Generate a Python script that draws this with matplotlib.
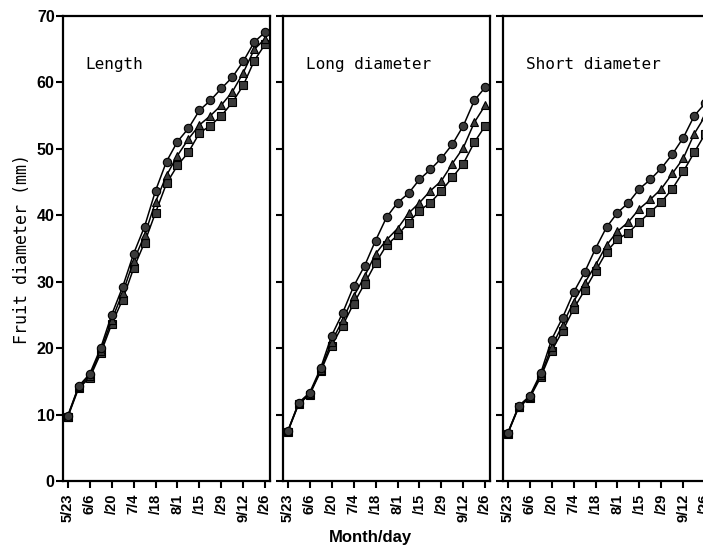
import numpy as np
import pandas as pd
import matplotlib
matplotlib.use("Agg")
import matplotlib.pyplot as plt

# weekly sampling dates
dates = ['5/23', '5/30', '6/6', '6/13', '6/20', '6/27', '7/4', '7/11', '7/18', '7/25',
         '8/1', '8/8', '8/15', '8/22', '8/29', '9/5', '9/12', '9/19', '9/26']
tick_dates = ['5/23', '6/6', '6/20', '7/4', '7/18', '8/1', '8/15', '8/29', '9/12', '9/26']
tick_labels = ['5/23', '6/6', '/20', '7/4', '/18', '8/1', '/15', '/29', '9/12', '/26']

# Length (mm)
len_circ = [9.8, 14.3, 16.1, 20.0, 25.0, 29.2, 34.2, 38.3, 43.7, 48.1,
            51.1, 53.1, 55.8, 57.3, 59.1, 60.8, 63.2, 66.1, 67.6]
len_tri = [9.7, 14.2, 15.8, 19.6, 24.2, 28.3, 33.1, 37.0, 42.0, 46.0,
           49.0, 51.5, 53.6, 55.0, 56.6, 58.6, 61.5, 65.0, 66.6]
len_sq = [9.6, 14.0, 15.5, 19.2, 23.6, 27.3, 32.0, 35.9, 40.4, 44.8,
          47.5, 49.5, 52.4, 53.5, 55.0, 57.0, 59.6, 63.3, 65.8]

# Long diameter (mm)
long_circ = [7.5, 11.8, 13.3, 17.0, 21.9, 25.3, 29.3, 32.4, 36.2, 39.7,
             41.9, 43.3, 45.4, 46.9, 48.6, 50.7, 53.5, 57.3, 59.3]
long_tri = [7.5, 11.7, 13.1, 16.7, 21.0, 24.2, 27.8, 30.8, 34.2, 36.3,
            38.0, 40.3, 41.9, 43.7, 45.2, 47.8, 50.2, 54.0, 56.6]
long_sq = [7.4, 11.6, 13.0, 16.5, 20.4, 23.4, 26.7, 29.7, 32.8, 35.5,
           37.0, 38.9, 40.7, 41.9, 43.7, 45.7, 47.8, 51.0, 53.5]

# Short diameter (mm)
short_circ = [7.2, 11.3, 12.8, 16.2, 21.3, 24.6, 28.4, 31.4, 35.0, 38.2,
              40.4, 41.9, 44.0, 45.4, 47.1, 49.2, 51.7, 55.0, 56.9]
short_tri = [7.2, 11.2, 12.6, 15.9, 20.2, 23.5, 27.0, 29.8, 32.5, 35.5,
             37.6, 39.0, 41.0, 42.4, 44.0, 46.3, 48.6, 52.3, 55.0]
short_sq = [7.1, 11.1, 12.5, 15.6, 19.6, 22.6, 25.9, 28.7, 31.6, 34.5,
            36.4, 37.4, 39.0, 40.5, 42.0, 44.0, 46.6, 49.5, 52.3]

titles = ['Length', 'Long diameter', 'Short diameter']
panels = [(len_circ, len_tri, len_sq),
          (long_circ, long_tri, long_sq),
          (short_circ, short_tri, short_sq)]


def to_day(s):
    d = pd.to_datetime('2000/' + s, format='%Y/%m/%d')
    return (d - pd.Timestamp('2000-05-23')).days


x = np.array([to_day(d) for d in dates])
xt = np.array([to_day(d) for d in tick_dates])

fig = plt.figure(figsize=(7.03, 5.55), dpi=100)
mono = 'DejaVu Sans Mono'
narrow = ['Liberation Sans', 'DejaVu Sans']

lefts = [0.0896, 0.4026, 0.7155]
bottom, height, width = 0.1333, 0.8378, 0.2945

for k, (circ, tri, sq) in enumerate(panels):
    ax = fig.add_axes([lefts[k], bottom, width, height])
    ax.plot(x, sq, '-s', color='black', lw=1.1, ms=6, mfc='#3a3a3a', mec='black', mew=0.8)
    ax.plot(x, tri, '-^', color='black', lw=1.1, ms=6, mfc='#3a3a3a', mec='black', mew=0.8)
    ax.plot(x, circ, '-o', color='black', lw=1.1, ms=6, mfc='#3a3a3a', mec='black', mew=0.8)
    ax.set_xlim(-3, 129)
    ax.set_ylim(0, 70)
    ax.set_yticks(np.arange(0, 71, 10))
    ax.set_xticks(xt)
    ax.set_xticklabels(tick_labels, rotation=90, fontsize=10.5, fontweight='bold', family=narrow)
    for sp in ax.spines.values():
        sp.set_linewidth(1.6)
    ax.tick_params(direction='out', length=5, width=1.5, pad=4)
    if k == 0:
        ax.set_yticklabels([str(v) for v in range(0, 71, 10)], fontsize=11.5,
                           fontweight='bold', family=narrow)
        ax.tick_params(axis='y', pad=1)
        ax.set_ylabel('Fruit diameter (mm)', fontsize=12, family=mono, labelpad=4)
    else:
        ax.set_yticklabels([])
    ax.text(0.11, 0.895, titles[k], transform=ax.transAxes, fontsize=11.5,
            family=mono, va='center', ha='left')

fig.text(0.527, 0.032, 'Month/day', ha='center', va='center', fontsize=12,
         fontweight='bold', family=narrow)

fig.savefig('out.png', dpi=100)
